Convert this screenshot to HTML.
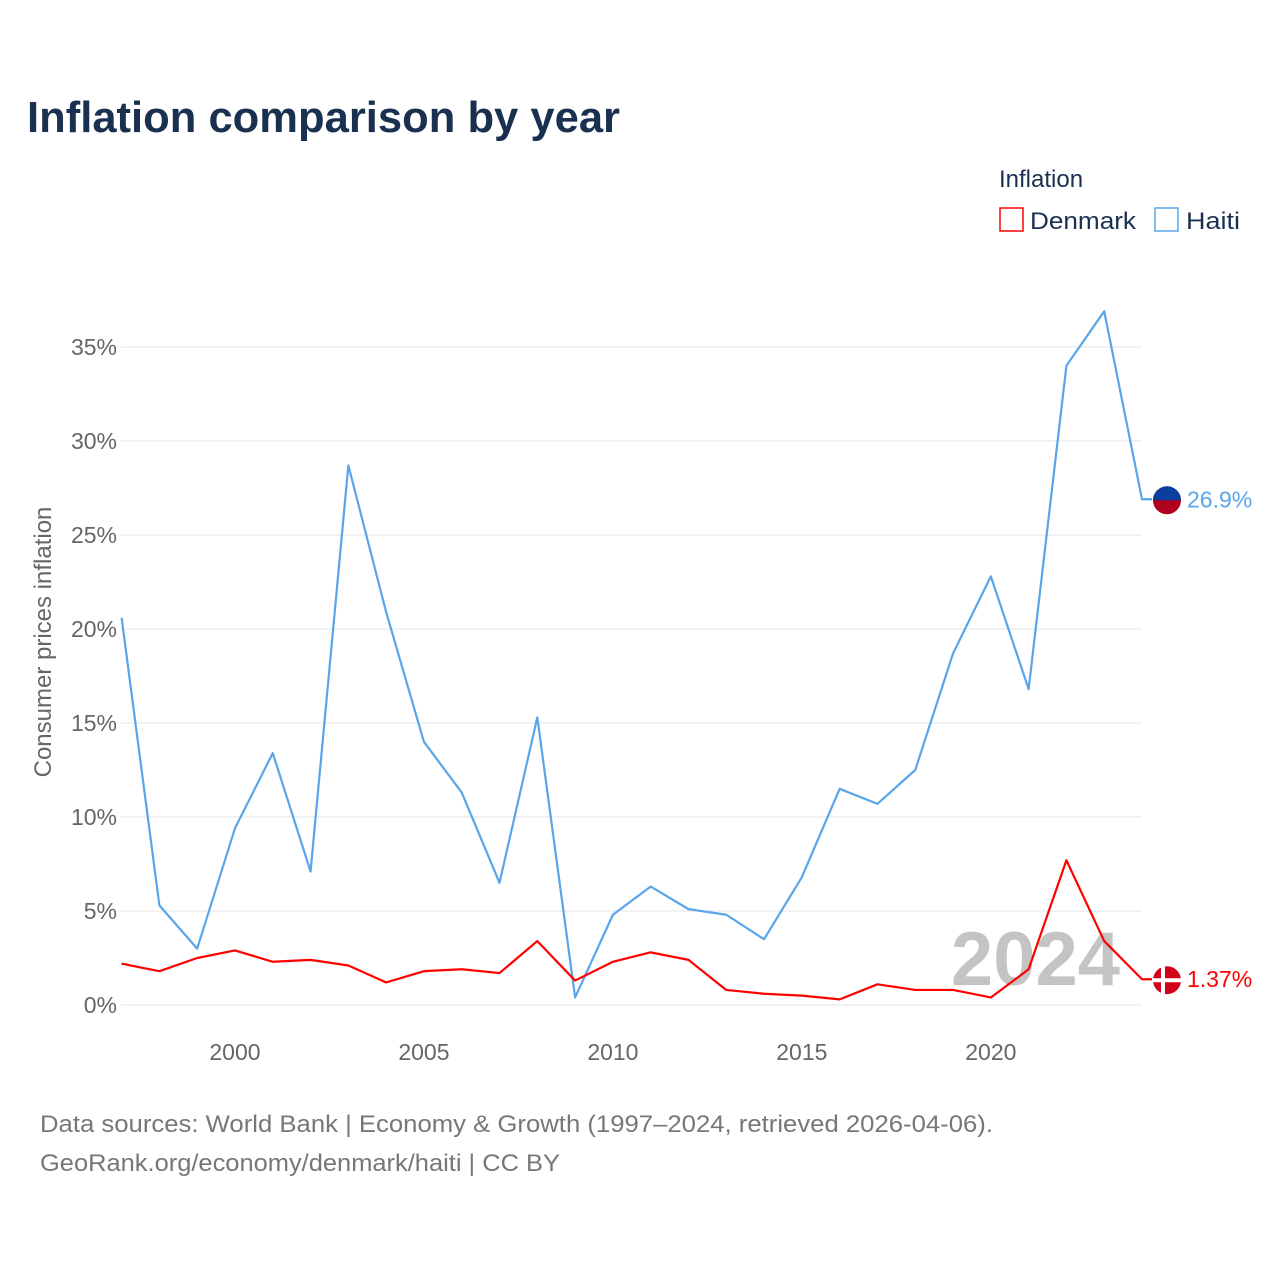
<!DOCTYPE html>
<html><head><meta charset="utf-8">
<style>
body{margin:0;background:#fff;font-family:"Liberation Sans",sans-serif;}
svg text{font-family:"Liberation Sans",sans-serif;}
</style></head>
<body>
<svg id="chart" width="1280" height="1280" xmlns="http://www.w3.org/2000/svg">
<text x="27" y="132" font-size="44" font-weight="bold" fill="#1a3050" textLength="593" lengthAdjust="spacingAndGlyphs">Inflation comparison by year</text>
<text x="999" y="187" font-size="24" fill="#1a3050">Inflation</text>
<g>
<rect x="1000" y="208" width="23" height="23" fill="none" stroke="#ff0000" stroke-width="1.5"/>
<text x="1030" y="229" font-size="24" fill="#1a3050" textLength="106" lengthAdjust="spacingAndGlyphs">Denmark</text></g>
<g>
<rect x="1155" y="208" width="23" height="23" fill="none" stroke="#5aa5ea" stroke-width="1.5"/>
<text x="1186" y="229" font-size="24" fill="#1a3050" textLength="54" lengthAdjust="spacingAndGlyphs">Haiti</text></g>
<text transform="translate(51,642) rotate(-90)" text-anchor="middle" font-size="24" fill="#666">Consumer prices inflation</text>
<g id="grid"></g>
<text x="1120" y="985" text-anchor="end" font-size="76" font-weight="bold" fill="#c4c4c4">2024</text>
<g id="lines"></g>
<text x="40" y="1132" font-size="24" fill="#777" textLength="953" lengthAdjust="spacingAndGlyphs">Data sources: World Bank | Economy &amp; Growth (1997–2024, retrieved 2026-04-06).</text>
<text x="40" y="1171" font-size="24" fill="#777" textLength="520" lengthAdjust="spacingAndGlyphs">GeoRank.org/economy/denmark/haiti | CC BY</text>
</svg>
<script>
const years=[1997,1998,1999,2000,2001,2002,2003,2004,2005,2006,2007,2008,2009,2010,2011,2012,2013,2014,2015,2016,2017,2018,2019,2020,2021,2022,2023,2024];
const haiti=[20.6,5.3,3.0,9.4,13.4,7.1,28.7,20.9,14.0,11.3,6.5,15.3,0.4,4.8,6.3,5.1,4.8,3.5,6.8,11.5,10.7,12.5,18.7,22.8,16.8,34.0,36.9,26.9];
const denmark=[2.2,1.8,2.5,2.9,2.3,2.4,2.1,1.2,1.8,1.9,1.7,3.4,1.3,2.3,2.8,2.4,0.8,0.6,0.5,0.3,1.1,0.8,0.8,0.4,1.9,7.7,3.4,1.37];
const yTicks=[0,5,10,15,20,25,30,35];
const xTicks=[2000,2005,2010,2015,2020];
const NS="http://www.w3.org/2000/svg";
const X=y=>121.6+(y-1997)*(1142-121.6)/27;
const Y=v=>1005-v*18.8;
const grid=document.getElementById('grid'),lines=document.getElementById('lines');
function mk(t,a,p){const e=document.createElementNS(NS,t);for(const k in a)e.setAttribute(k,a[k]);p.appendChild(e);return e;}
yTicks.forEach(v=>{
 const l=mk('line',{x1:121,x2:1142,y1:Y(v),y2:Y(v),stroke:'#e6e6e6','stroke-width':1},grid);
 
 
 const t=mk('text',{x:117,y:Y(v)+8,'text-anchor':'end','font-size':23,fill:'#666'},grid);
 t.textContent=v+'%';
 
 
});
xTicks.forEach(y=>{
 const t=mk('text',{x:X(y),y:1060,'text-anchor':'middle','font-size':23,fill:'#666'},grid);
 t.textContent=y;
 
 
});
function series(vals,color,name,label){
 const pts=vals.map((v,i)=>X(years[i])+','+Y(v)).join(' ');
 const last=Y(vals[vals.length-1]);
 const p=mk('polyline',{points:pts+' 1152,'+last,fill:'none',stroke:color,'stroke-width':2.2,'stroke-linejoin':'round'},lines);
 
 
 const c=mk('circle',{cx:1167,cy:last+1,r:14,fill:color==='#ff0000'?'#d0021b':'#b00020'},lines);
 
 
 if(name==='haiti'){mk('path',{d:`M1153 ${last+1} A14 14 0 0 1 1181 ${last+1} Z`,fill:'#0a3fa0'},lines);}
 else{mk('rect',{x:1153,y:last-1,width:28,height:4,fill:'#fff'},lines);mk('rect',{x:1161,y:last-13,width:4,height:28,fill:'#fff'},lines);}
 const t=mk('text',{x:1187,y:last+8,'font-size':23,fill:color},lines);
 t.textContent=label;
 
 
}
series(haiti,'#5aa5ea','haiti','26.9%');
series(denmark,'#ff0000','denmark','1.37%');
</script>
</body></html>
